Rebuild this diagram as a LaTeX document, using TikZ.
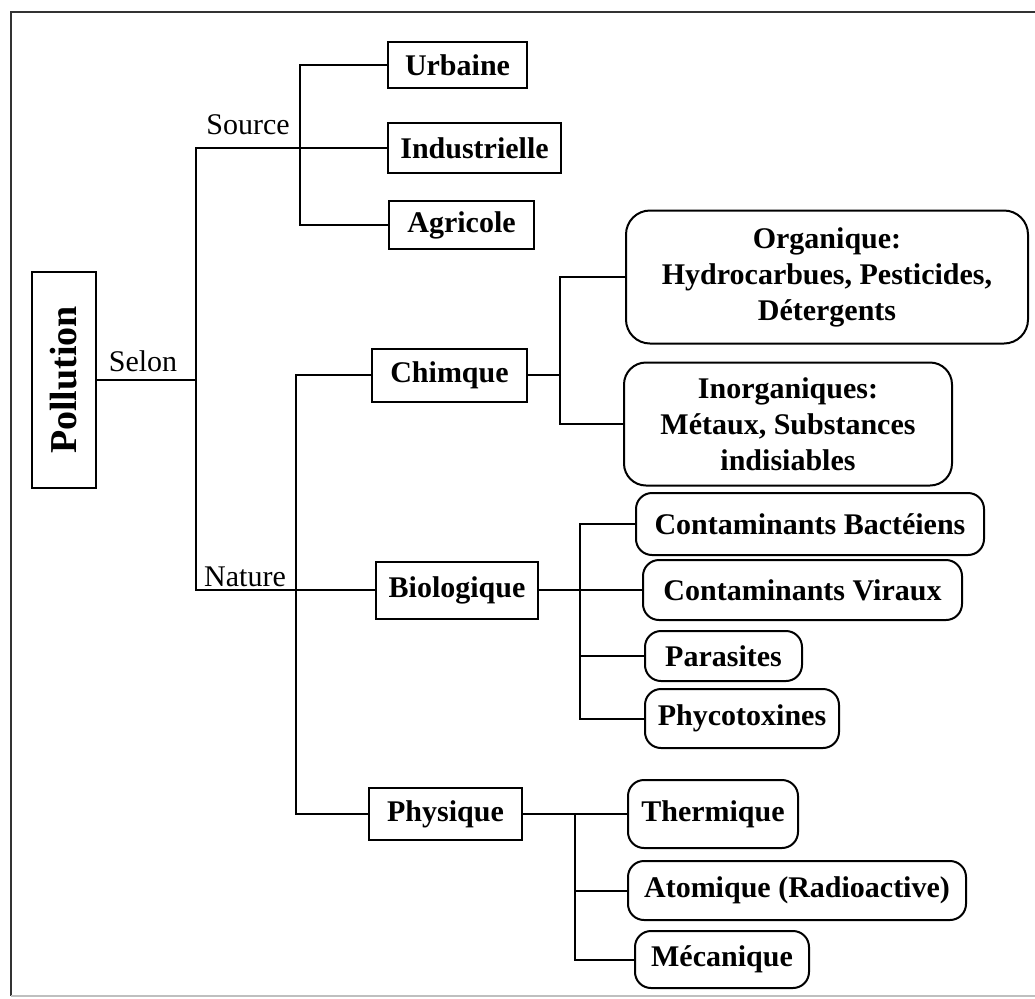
\documentclass[tikz,border=0pt]{standalone}
\usepackage{fontspec}
\setmainfont{Liberation Serif}

\begin{document}
\begin{tikzpicture}[x=0.5pt,y=-0.5pt,
    every node/.style={font=\fontsize{15}{18}\selectfont},
    boite/.style={draw, line width=1pt, inner sep=0pt,
        font=\fontsize{15}{18}\selectfont\bfseries},
    bulle/.style={boite, rounded corners=8pt, align=center},
    lien/.style={line width=1pt}]

\useasboundingbox (0,0) rectangle (1035,998);

% cadre
\draw[line width=1pt, black!80] (11,996) -- (11,12) -- (1035,12);
\draw[line width=0.6pt, black!25] (11,996) -- (1035,996);

% racine et premier niveau
\node[boite, rotate=90, minimum width=108pt, minimum height=32pt,
    font=\fontsize{19}{23}\selectfont\bfseries] (pol) at (64,380) {Pollution};

\node[boite, minimum width=69.5pt, minimum height=23pt] (urb) at (457.5,65) {Urbaine};
\node[boite, minimum width=86.5pt, minimum height=25pt] (ind) at (474.5,148) {Industrielle};
\node[boite, minimum width=72.5pt, minimum height=24pt] (agr) at (461.5,225) {Agricole};

\node[boite, minimum width=77.5pt, minimum height=26.5pt] (chi) at (449.5,375) {Chimque};
\node[boite, minimum width=81pt, minimum height=28.5pt] (bio) at (457,590) {Biologique};
\node[boite, minimum width=76.5pt, minimum height=26pt] (phy) at (445.5,814) {Physique};

% feuilles
\node[bulle, rounded corners=12pt, minimum width=201pt, minimum height=66.5pt] (org) at (827,277)
    {Organique:\\ Hydrocarbues, Pesticides,\\ Détergents};
\node[bulle, rounded corners=11pt, minimum width=164pt, minimum height=61.5pt] (inorg) at (788,424)
    {Inorganiques:\\ Métaux, Substances\\ indisiables};

\node[bulle, minimum width=174pt, minimum height=31pt] (bact) at (810,524) {Contaminants Bactéiens};
\node[bulle, minimum width=159.5pt, minimum height=30pt] (vir) at (802.5,590) {Contaminants Viraux};
\node[bulle, minimum width=78.5pt, minimum height=25pt] (para) at (723.5,656) {Parasites};
\node[bulle, minimum width=97pt, minimum height=29.5pt] (phyco) at (742,718.5) {Phycotoxines};

\node[bulle, minimum width=85pt, minimum height=34pt] (therm) at (713,814) {Thermique};
\node[bulle, minimum width=169pt, minimum height=29.5pt] (ato) at (797,890.5) {Atomique (Radioactive)};
\node[bulle, minimum width=87pt, minimum height=28.5pt] (meca) at (722,959.5) {Mécanique};

% etiquettes
\node (lsrc) at (248,125) {Source};
\node (lselon) at (143,361) {Selon};
\node (lnat) at (245,577) {Nature};

% liaisons
\coordinate (tronc) at (196,380);
\coordinate (srcb) at (300,148);
\coordinate (natb) at (296,590);
\coordinate (chib) at (560,375);
\coordinate (biob) at (580,590);
\coordinate (phyb) at (575,814);

\draw[lien] (pol.south) -- (tronc);
\draw[lien] (ind.west) -| (tronc) |- (bio.west);
\draw[lien] (urb.west) -| (srcb) |- (agr.west);
\draw[lien] (chi.west) -| (natb) |- (phy.west);

\draw[lien] (chi.east) -- (chib);
\draw[lien] (org.west) -| (chib) |- (inorg.west);

\draw[lien] (bio.east) -- (vir.west);
\draw[lien] (bact.west) -| (biob) |- (phyco.west);
\draw[lien] (para.west) -- (para.west -| biob);

\draw[lien] (phy.east) -- (therm.west);
\draw[lien] (phyb) |- (meca.west);
\draw[lien] (ato.west) -- (ato.west -| phyb);
\end{tikzpicture}
\end{document}
